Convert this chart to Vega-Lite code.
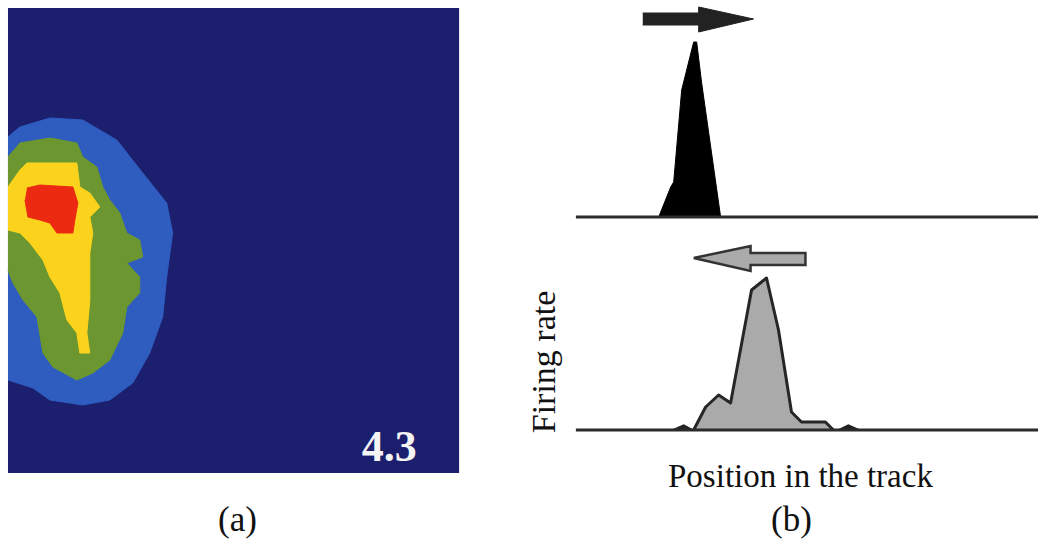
{
  "$schema": "https://vega.github.io/schema/vega-lite/v6.json",
  "width": 1040,
  "height": 539,
  "autosize": {"type": "fit", "contains": "padding"},
  "padding": 0,
  "background": "white",
  "config": {"view": {"stroke": null}},
  "datasets": {
    "bg": [{"x": 8, "x2": 460, "y": 8, "y2": 473}],
    "blue": [
      {"i":1,"x":8,"y":137},{"i":2,"x":20,"y":127},{"i":3,"x":50,"y":118},{"i":4,"x":83,"y":120},{"i":5,"x":117,"y":140},{"i":6,"x":143,"y":173},{"i":7,"x":167,"y":203},{"i":8,"x":173,"y":233},{"i":9,"x":167,"y":277},{"i":10,"x":163,"y":317},{"i":11,"x":150,"y":353},{"i":12,"x":133,"y":383},{"i":13,"x":110,"y":400},{"i":14,"x":83,"y":405},{"i":15,"x":50,"y":400},{"i":16,"x":33,"y":388},{"i":17,"x":8,"y":380}
    ],
    "green": [
      {"i":1,"x":8,"y":157},{"i":2,"x":20,"y":143},{"i":3,"x":50,"y":138},{"i":4,"x":77,"y":143},{"i":5,"x":83,"y":157},{"i":6,"x":97,"y":167},{"i":7,"x":103,"y":187},{"i":8,"x":110,"y":200},{"i":9,"x":120,"y":213},{"i":10,"x":127,"y":233},{"i":11,"x":140,"y":240},{"i":12,"x":143,"y":257},{"i":13,"x":127,"y":263},{"i":14,"x":140,"y":277},{"i":15,"x":140,"y":293},{"i":16,"x":127,"y":307},{"i":17,"x":123,"y":333},{"i":18,"x":110,"y":360},{"i":19,"x":93,"y":373},{"i":20,"x":77,"y":380},{"i":21,"x":53,"y":367},{"i":22,"x":43,"y":353},{"i":23,"x":37,"y":317},{"i":24,"x":23,"y":300},{"i":25,"x":13,"y":283},{"i":26,"x":8,"y":270}
    ],
    "yellow": [
      {"i":1,"x":8,"y":187},{"i":2,"x":20,"y":170},{"i":3,"x":27,"y":163},{"i":4,"x":77,"y":163},{"i":5,"x":80,"y":187},{"i":6,"x":90,"y":193},{"i":7,"x":100,"y":207},{"i":8,"x":90,"y":217},{"i":9,"x":93,"y":233},{"i":10,"x":90,"y":253},{"i":11,"x":90,"y":300},{"i":12,"x":87,"y":333},{"i":13,"x":90,"y":353},{"i":14,"x":80,"y":353},{"i":15,"x":77,"y":333},{"i":16,"x":67,"y":320},{"i":17,"x":60,"y":293},{"i":18,"x":50,"y":277},{"i":19,"x":43,"y":260},{"i":20,"x":30,"y":243},{"i":21,"x":20,"y":233},{"i":22,"x":8,"y":230}
    ],
    "red": [
      {"i":1,"x":27,"y":188},{"i":2,"x":40,"y":185},{"i":3,"x":73,"y":187},{"i":4,"x":78,"y":203},{"i":5,"x":75,"y":220},{"i":6,"x":73,"y":233},{"i":7,"x":57,"y":233},{"i":8,"x":50,"y":223},{"i":9,"x":40,"y":220},{"i":10,"x":28,"y":217},{"i":11,"x":25,"y":200}
    ],
    "baselines": [{"x": 577, "x2": 1040, "y": 217}, {"x": 577, "x2": 1040, "y": 430}],
    "blackpeak": [
      {"i":1,"x":660,"y":217},{"i":2,"x":672,"y":187},{"i":3,"x":675,"y":182},{"i":4,"x":683,"y":90},{"i":5,"x":695,"y":42},{"i":6,"x":698,"y":42},{"i":7,"x":703,"y":83},{"i":8,"x":722,"y":217}
    ],
    "blackarrow": [
      {"i":1,"x":644,"y":13},{"i":2,"x":700,"y":13},{"i":3,"x":700,"y":7},{"i":4,"x":755,"y":19},{"i":5,"x":700,"y":32},{"i":6,"x":700,"y":25},{"i":7,"x":644,"y":25}
    ],
    "graypeak": [
      {"i":1,"x":695,"y":430},{"i":2,"x":707,"y":407},{"i":3,"x":720,"y":395},{"i":4,"x":732,"y":403},{"i":5,"x":753,"y":290},{"i":6,"x":768,"y":278},{"i":7,"x":780,"y":330},{"i":8,"x":793,"y":412},{"i":9,"x":803,"y":422},{"i":10,"x":827,"y":422},{"i":11,"x":835,"y":430}
    ],
    "bumps": [
      {"g":"a","i":1,"x":674,"y":430},{"g":"a","i":2,"x":685,"y":425},{"g":"a","i":3,"x":694,"y":430},
      {"g":"b","i":1,"x":840,"y":430},{"g":"b","i":2,"x":850,"y":425},{"g":"b","i":3,"x":861,"y":430}
    ],
    "grayarrow": [
      {"i":1,"x":695,"y":258},{"i":2,"x":752,"y":246},{"i":3,"x":752,"y":253},{"i":4,"x":807,"y":253},{"i":5,"x":807,"y":265},{"i":6,"x":752,"y":265},{"i":7,"x":752,"y":271},{"i":8,"x":695,"y":258}
    ],
    "labels": [
      {"x": 802, "y": 487, "t": "Position in the track"}
    ],
    "panels": [
      {"x": 238, "y": 531, "t": "(a)"},
      {"x": 793, "y": 531, "t": "(b)"}
    ],
    "ylabel": [{"x": 556, "y": 362, "t": "Firing rate"}],
    "num": [{"x": 390, "y": 461, "t": "4.3"}]
  },
  "encoding": {
    "x": {"field": "x", "type": "quantitative", "scale": {"domain": [0, 1040], "nice": false, "zero": false}, "axis": null},
    "y": {"field": "y", "type": "quantitative", "scale": {"domain": [539, 0], "nice": false, "zero": false}, "axis": null}
  },
  "layer": [
    {"data": {"name": "bg"}, "mark": {"type": "rect", "color": "#1c1f6e"},
     "encoding": {"x2": {"field": "x2"}, "y2": {"field": "y2"}}},
    {"data": {"name": "blue"}, "mark": {"type": "line", "fill": "#2e5cbf", "stroke": "#2e5cbf", "strokeWidth": 1}, "encoding": {"order": {"field": "i", "type": "quantitative"}}},
    {"data": {"name": "green"}, "mark": {"type": "line", "fill": "#6b9630", "stroke": "#6b9630", "strokeWidth": 1}, "encoding": {"order": {"field": "i", "type": "quantitative"}}},
    {"data": {"name": "yellow"}, "mark": {"type": "line", "fill": "#fcd31c", "stroke": "#fcd31c", "strokeWidth": 1}, "encoding": {"order": {"field": "i", "type": "quantitative"}}},
    {"data": {"name": "red"}, "mark": {"type": "line", "fill": "#ec2a12", "stroke": "#ec2a12", "strokeWidth": 1}, "encoding": {"order": {"field": "i", "type": "quantitative"}}},
    {"data": {"name": "num"}, "mark": {"type": "text", "font": "Liberation Serif", "fontSize": 44, "fontWeight": "bold", "color": "#f4f4f4", "align": "center", "baseline": "alphabetic"}, "encoding": {"text": {"field": "t"}}},
    {"data": {"name": "blackpeak"}, "mark": {"type": "line", "fill": "#000000", "stroke": "#000000", "strokeWidth": 1}, "encoding": {"order": {"field": "i", "type": "quantitative"}}},
    {"data": {"name": "blackarrow"}, "mark": {"type": "line", "fill": "#222222", "stroke": "#222222", "strokeWidth": 1}, "encoding": {"order": {"field": "i", "type": "quantitative"}}},
    {"data": {"name": "bumps"}, "mark": {"type": "line", "fill": "#222222", "stroke": "#222222", "strokeWidth": 1.5}, "encoding": {"detail": {"field": "g"}, "order": {"field": "i", "type": "quantitative"}}},
    {"data": {"name": "graypeak"}, "mark": {"type": "line", "fill": "#aaaaaa", "stroke": "#262626", "strokeWidth": 3, "strokeJoin": "round"}, "encoding": {"order": {"field": "i", "type": "quantitative"}}},
    {"data": {"name": "grayarrow"}, "mark": {"type": "line", "fill": "#aaaaaa", "stroke": "#333333", "strokeWidth": 2.5, "strokeJoin": "miter"}, "encoding": {"order": {"field": "i", "type": "quantitative"}}},
    {"data": {"name": "baselines"}, "mark": {"type": "rule", "color": "#2b2b2b", "strokeWidth": 3}, "encoding": {"x2": {"field": "x2"}}},
    {"data": {"name": "labels"}, "mark": {"type": "text", "font": "Liberation Serif", "fontSize": 33, "color": "#111111", "align": "center", "baseline": "alphabetic"}, "encoding": {"text": {"field": "t"}}},
    {"data": {"name": "panels"}, "mark": {"type": "text", "font": "Liberation Serif", "fontSize": 35, "color": "#111111", "align": "center", "baseline": "alphabetic"}, "encoding": {"text": {"field": "t"}}},
    {"data": {"name": "ylabel"}, "mark": {"type": "text", "font": "Liberation Serif", "fontSize": 34, "color": "#111111", "align": "center", "baseline": "alphabetic", "angle": 270}, "encoding": {"text": {"field": "t"}}}
  ]
}
